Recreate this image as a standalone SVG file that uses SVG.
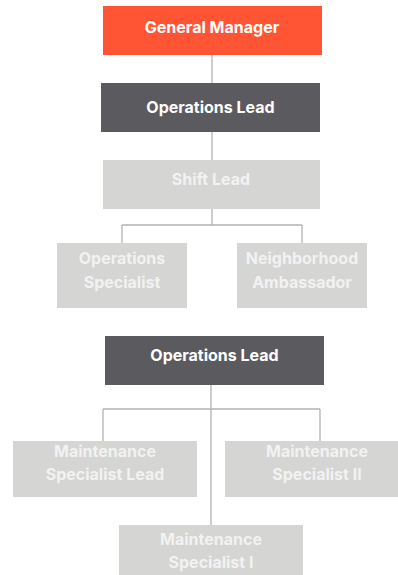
<svg xmlns="http://www.w3.org/2000/svg" width="398" height="575" viewBox="0 0 398 575">
<style>
.t{font-family:Inter,"Liberation Sans",sans-serif;font-weight:700;font-size:16px;text-anchor:middle}
.w{fill:#ffffff}
.g{fill:#f2f2f2}
.c{fill:none;stroke:#b3b3b3;stroke-width:1.3}
</style>
<rect width="398" height="575" fill="#ffffff"/>
<g id="connectors">
<path class="c" d="M212 55V83M212 132V160M212 209V225M122 225H302M122 225V243M302 225V243"/>
<path class="c" d="M211 385V525M103 409H320M103 409V441M320 409V441"/>
</g>
<g id="general-manager">
<rect x="103" y="6" width="219" height="49" fill="#ff5535"/>
<text class="t w" x="212" y="33">General Manager</text>
</g>
<g id="operations-lead-1">
<rect x="101" y="83" width="219" height="49" fill="#5b5a5f"/>
<text class="t w" x="210.5" y="113">Operations Lead</text>
</g>
<g id="shift-lead">
<rect x="103" y="160" width="217" height="49" fill="#d5d5d3"/>
<text class="t g" x="211" y="185">Shift Lead</text>
</g>
<g id="operations-specialist">
<rect x="57" y="243" width="130" height="65" fill="#d5d5d3"/>
<text class="t g" x="122" y="264">Operations</text>
<text class="t g" x="122" y="288">Specialist</text>
</g>
<g id="neighborhood-ambassador">
<rect x="237" y="243" width="130" height="65" fill="#d5d5d3"/>
<text class="t g" x="302" y="264">Neighborhood</text>
<text class="t g" x="302" y="288">Ambassador</text>
</g>
<g id="operations-lead-2">
<rect x="105" y="336" width="219" height="49" fill="#5b5a5f"/>
<text class="t w" x="214.5" y="361">Operations Lead</text>
</g>
<g id="maintenance-specialist-lead">
<rect x="13" y="441" width="184" height="56" fill="#d5d5d3"/>
<text class="t g" x="105" y="457">Maintenance</text>
<text class="t g" x="105" y="480">Specialist Lead</text>
</g>
<g id="maintenance-specialist-ii">
<rect x="225" y="441" width="184" height="56" fill="#d5d5d3"/>
<text class="t g" x="317" y="457">Maintenance</text>
<text class="t g" x="317" y="480">Specialist II</text>
</g>
<g id="maintenance-specialist-i">
<rect x="119" y="525" width="184" height="56" fill="#d5d5d3"/>
<text class="t g" x="211" y="545">Maintenance</text>
<text class="t g" x="211" y="568">Specialist I</text>
</g>
</svg>
